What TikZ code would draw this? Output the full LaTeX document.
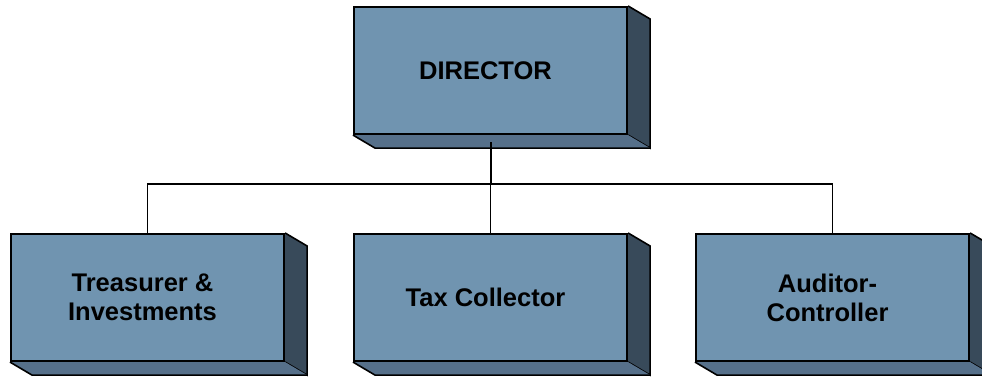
\documentclass[tikz,border=0pt]{standalone}
\usepackage{fontspec}
\setmainfont{Liberation Sans}
\usetikzlibrary{calc}
\definecolor{facec}{HTML}{7094B0}
\definecolor{sidec}{HTML}{384A5A}
\definecolor{botc}{HTML}{56708A}
\tikzset{
  orgbox/.style={draw=black, fill=facec, line width=1.6pt, minimum width=273.5pt, minimum height=127.5pt, inner sep=0pt,
    font=\fontsize{25.5}{29}\selectfont\bfseries, align=center},
  face/.style={draw=black, line width=1.6pt, line join=miter},
  wire/.style={draw=black, line width=1.8pt}
}
\newcommand\cubebox[4]{%
  \node[orgbox] (#1) at (#2,#3) {};
  \fill[sidec] (#1.north east) -- ++(22,13) -- ($(#1.south east)+(22,13)$) -- (#1.south east) -- cycle;
  \draw[face] (#1.north east) -- ++(22,13) -- ($(#1.south east)+(22,13)$) -- (#1.south east);
  \fill[botc] (#1.south west) -- (#1.south east) -- ++(22,13) -- ($(#1.south west)+(22,13)$) -- cycle;
  \draw[face] (#1.south west) -- ++(22,13) -- ($(#1.south east)+(22,13)$);
  \node[font=\fontsize{25.5}{29}\selectfont\bfseries, align=center] at ($(#1.center)+(-5,0)$) {#4};
}
\begin{document}
\begin{tikzpicture}[x=1pt,y=-1pt]
\useasboundingbox (0,0) rectangle (982,377);
\cubebox{dir}{490.5}{70.5}{DIRECTOR}
\cubebox{tre}{147.5}{297.5}{Treasurer \&\\Investments}
\cubebox{tax}{490.5}{297.5}{Tax Collector}
\cubebox{aud}{832.5}{297.5}{Auditor-\\Controller}
\coordinate (bus) at (490.5,184);
\draw[wire] (tre.north) -- (tre.north |- bus) -- (aud.north |- bus) -- (aud.north);
\draw[wire, line width=2pt] ($(dir.south)+(0,7)$) -- (bus);
\draw[wire] (bus) -- (tax.north);
\end{tikzpicture}
\end{document}
